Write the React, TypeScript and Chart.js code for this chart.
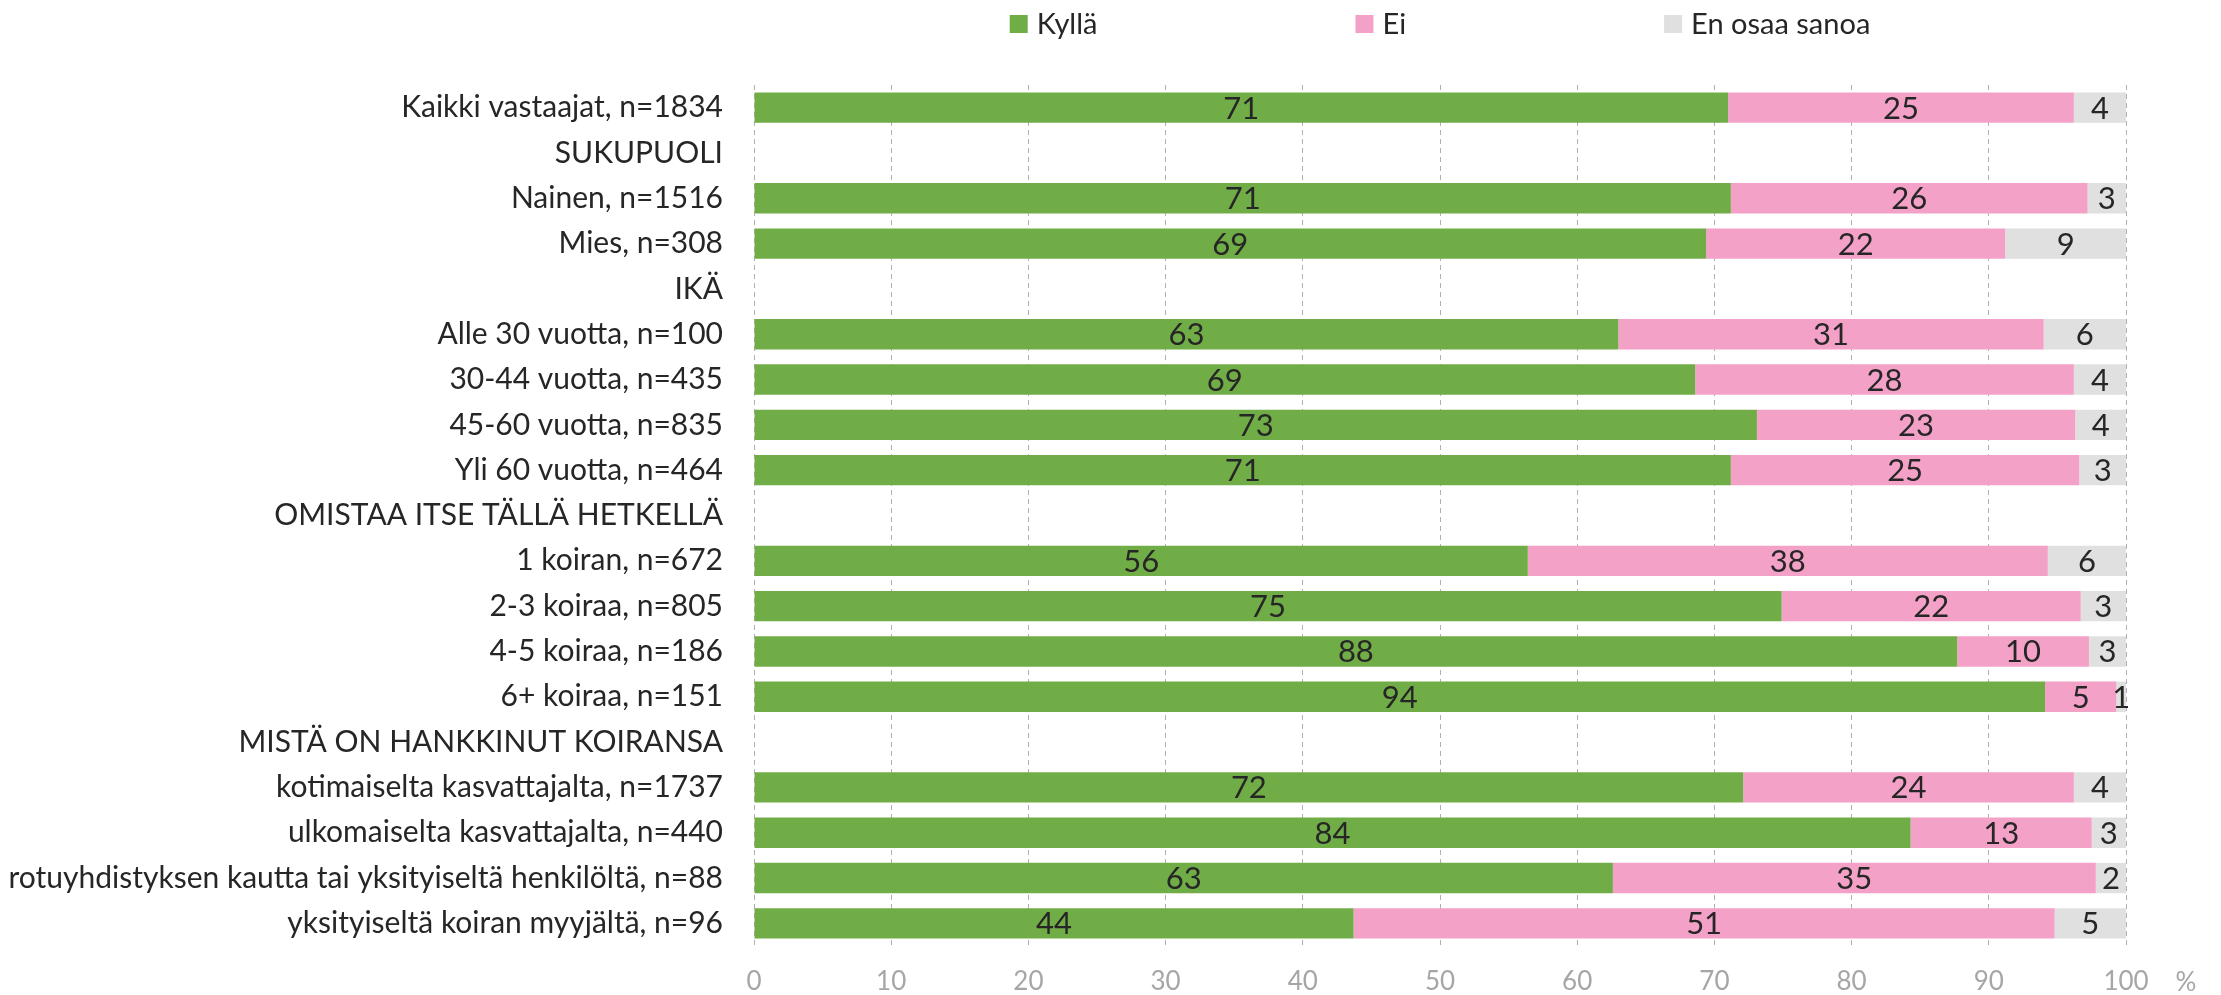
import React, { useEffect, useRef } from "react";
import { Chart, registerables } from "chart.js";

Chart.register(...registerables);

const categories = [
  "Kaikki vastaajat, n=1834",
  "SUKUPUOLI",
  "Nainen, n=1516",
  "Mies, n=308",
  "IKÄ",
  "Alle 30 vuotta, n=100",
  "30-44 vuotta, n=435",
  "45-60 vuotta, n=835",
  "Yli 60 vuotta, n=464",
  "OMISTAA ITSE TÄLLÄ HETKELLÄ",
  "1 koiran, n=672",
  "2-3 koiraa, n=805",
  "4-5 koiraa, n=186",
  "6+ koiraa, n=151",
  "MISTÄ ON HANKKINUT KOIRANSA",
  "kotimaiselta kasvattajalta, n=1737",
  "ulkomaiselta kasvattajalta, n=440",
  "rotuyhdistyksen kautta tai yksityiseltä henkilöltä, n=88",
  "yksityiseltä koiran myyjältä, n=96",
];

const kylla = [71.0, null, 71.2, 69.4, null, 63.0, 68.6, 73.1, 71.2, null, 56.4, 74.9, 87.7, 94.1, null, 72.1, 84.3, 62.6, 43.7];
const ei = [25.2, null, 26.0, 21.8, null, 31.0, 27.6, 23.2, 25.4, null, 37.9, 21.8, 9.6, 5.2, null, 24.1, 13.2, 35.2, 51.1];
const enOsaa = [3.8, null, 2.8, 8.8, null, 6.0, 3.8, 3.7, 3.4, null, 5.7, 3.3, 2.7, 0.7, null, 3.8, 2.5, 2.2, 5.2];

const seriesNames = ["Kyllä", "Ei", "En osaa sanoa"];
const seriesColors = ["#70AD47", "#F4A1C8", "#E0E0E0"];

const xMin = 0;
const xMax = 100;
const xStep = 10;
const unitLabel = "%";

const FONT = "Lato, 'Noto Sans', sans-serif";

const legendPlugin = {
  id: "customLegend",
  afterDraw(chart: any) {
    const ctx = chart.ctx;
    const area = chart.chartArea;
    const fontSize = 29;
    const box = 18;
    const boxGap = 9;
    const itemGap = 258;
    ctx.save();
    ctx.font = `${fontSize}px ${FONT}`;
    const items = chart.data.datasets.map((ds: any) => ({
      label: ds.label,
      color: ds.backgroundColor,
      w: box + boxGap + ctx.measureText(ds.label).width,
    }));
    const total = items.reduce((s: number, it: any) => s + it.w, 0) + itemGap * (items.length - 1);
    let x = (area.left + area.right) / 2 - total / 2;
    const cy = 24;
    items.forEach((it: any) => {
      ctx.fillStyle = it.color;
      ctx.fillRect(x, cy - box / 2, box, box);
      ctx.fillStyle = "#262626";
      ctx.textAlign = "left";
      ctx.textBaseline = "middle";
      ctx.fillText(it.label, x + box + boxGap, cy + 1);
      x += it.w + itemGap;
    });
    ctx.restore();
  },
};

const valueLabelPlugin = {
  id: "valueLabels",
  afterDatasetsDraw(chart: any) {
    const ctx = chart.ctx;
    ctx.save();
    ctx.font = `31px ${FONT}`;
    ctx.fillStyle = "#262626";
    ctx.textAlign = "center";
    ctx.textBaseline = "middle";
    chart.data.datasets.forEach((ds: any, di: number) => {
      const meta = chart.getDatasetMeta(di);
      meta.data.forEach((el: any, i: number) => {
        const v = ds.data[i];
        if (v === null || v === undefined) return;
        const cx = (el.x + el.base) / 2;
        ctx.fillText(String(Math.round(v)), cx, el.y + 1);
      });
    });
    ctx.restore();
  },
};

const unitPlugin = {
  id: "unitLabel",
  afterDraw(chart: any) {
    const ctx = chart.ctx;
    const xs = chart.scales.x;
    ctx.save();
    ctx.font = `26px ${FONT}`;
    ctx.fillStyle = "#A6A6A6";
    ctx.textAlign = "center";
    ctx.textBaseline = "middle";
    ctx.fillText(unitLabel, xs.right + 60, 983);
    ctx.restore();
  },
};

export default function App() {
  const ref = useRef<HTMLCanvasElement | null>(null);

  useEffect(() => {
    if (!ref.current) return;
    const chart = new Chart(ref.current, {
      type: "bar",
      data: {
        labels: categories,
        datasets: [
          { label: seriesNames[0], data: kylla, backgroundColor: seriesColors[0] },
          { label: seriesNames[1], data: ei, backgroundColor: seriesColors[1] },
          { label: seriesNames[2], data: enOsaa, backgroundColor: seriesColors[2] },
        ].map((d) => ({ ...d, borderWidth: 0, barPercentage: 0.67, categoryPercentage: 1 })),
      },
      options: {
        indexAxis: "y",
        responsive: true,
        maintainAspectRatio: false,
        animation: false,
        layout: { padding: { top: 85, right: 95, left: 0, bottom: 0 } },
        plugins: {
          legend: { display: false },
          tooltip: { enabled: false },
        },
        scales: {
          x: {
            stacked: true,
            min: xMin,
            max: xMax,
            ticks: {
              stepSize: xStep,
              color: "#A6A6A6",
              font: { family: FONT, size: 26 },
              padding: 20,
            },
            grid: { color: "#B0B0B0", lineWidth: 1, drawTicks: false },
            border: { display: false, dash: [5, 4] },
            afterFit: (s: any) => {
              s.height = 47;
            },
          },
          y: {
            stacked: true,
            ticks: {
              color: "#262626",
              font: { family: FONT, size: 30 },
              padding: 31,
              autoSkip: false,
            },
            grid: { display: false, drawTicks: false },
            border: { display: false },
            afterFit: (s: any) => {
              s.width = 754;
            },
          },
        },
      },
      plugins: [legendPlugin, valueLabelPlugin, unitPlugin],
    });
    return () => chart.destroy();
  }, []);

  return (
    <div style={{ position: "fixed", left: 0, top: 0, width: 2221, height: 995, background: "#fff" }}>
      <canvas ref={ref} />
    </div>
  );
}
